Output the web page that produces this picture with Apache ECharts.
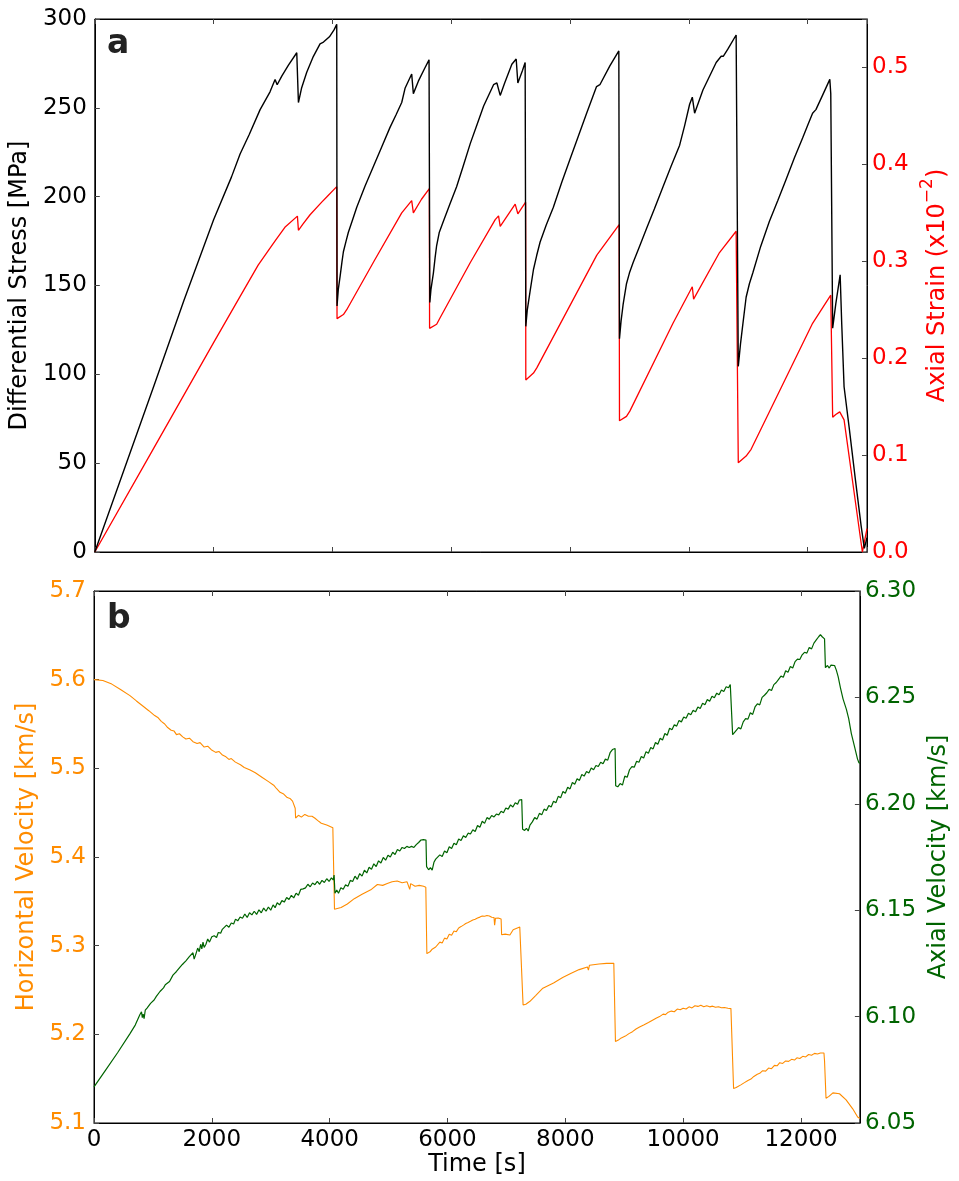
<!DOCTYPE html>
<html>
<head>
<meta charset="utf-8">
<script src="https://cdn.jsdelivr.net/npm/echarts@6/dist/echarts.min.js"></script>
<style>
  html, body { margin: 0; padding: 0; background: #fff; }
  #chart { width: 959px; height: 1181px; }
</style>
</head>
<body>
<div id="chart"></div>
<script>
// Time axis ticks [s]
const timeTicks = [0, 2000, 4000, 6000, 8000, 10000, 12000];

// Differential stress [MPa] vs time [s]
const stressData = [
  [0,0],[500,47],[1000,94],[1500,141.5],[2000,187],[2300,211],[2446,224],[2600,235],[2783,249],
  [2950,259],[3035,266],[3070,263],[3150,268],[3260,274],[3400,281],[3410,281],[3428,253],[3480,261],
  [3568,270],[3680,279],[3792,286],[3850,287],[3950,290],[4030,294],[4073,297],[4078,138.5],
  [4100,148],[4129,155],[4160,163],[4185,169],[4230,175],[4269,180],[4340,187],[4410,194],
  [4550,206],[4690,217],[4830,228],[4970,239],[5070,246],[5167,253],[5223,261],
  [5335,269],[5363,258],[5447,265],[5550,272],[5627,277],[5636,278],[5640,140.5],[5660,148],[5700,157],
  [5730,166],[5755,172.5],[5800,180],[5867,186],[5980,196],[6091,205.6],[6200,217],[6322,230],
  [6434,240.5],[6546,251],[6713,263],[6769,264],
  [6797,265],[6825,257],[6900,264],[7021,274.5],[7094,277.5],[7122,264],[7200,271],[7245,275.5],
  [7253,275],[7256,127],[7280,136],[7329,147],[7385,159],[7440,167],[7497,174.5],[7600,184],[7720,194],
  [7860,208],[8000,221],[8140,234],[8280,247],
  [8447,262],[8503,263],[8671,273.6],[8822,282],[8830,282],[8833,120],[8860,130],[8895,139.5],[8951,151],
  [9000,157],[9063,163],[9170,172],[9287,182],[9420,193],[9566,205.6],[9700,217],[9846,229],[9930,240],
  [10014,252],[10059,256],[10098,247],[10238,260],
  [10461,275.5],[10545,279],[10580,279],[10657,283],[10797,291],[10830,291],[10833,104.5],
  [10870,117],[10909,128],[10965,143.4],[11020,151],[11077,157],[11210,172],[11356,186],[11500,198],
  [11636,209.5],[11780,222],[11916,233],[12000,240],[12084,247],
  [12140,249],[12251,257],[12374,266],[12390,258],[12418,257],[12422,126],[12474,139.5],
  [12548,156],[12575,128],[12614,93],[12700,70],[12800,42],[12900,15],[12955,2],[13000,8]
];

// Axial strain [x10^-2] vs time [s]
const strainData = [
  [0,0],[1000,0.108],[2000,0.216],[2430,0.262],[2750,0.296],[3000,0.318],[3063,0.3234],[3080,0.322],
  [3200,0.335],[3411,0.3466],[3428,0.332],[3500,0.338],[3624,0.348],[3820,0.361],[3900,0.366],
  [4073,0.377],[4078,0.2408],[4185,0.245],[4241,0.25],[4700,0.30],[5167,0.350],[5335,0.3626],
  [5350,0.364],[5363,0.350],[5500,0.364],[5632,0.375],[5636,0.2308],[5755,0.235],[5811,0.2415],
  [6322,0.2987],[6741,0.343],[6797,0.3468],[6825,0.336],[7077,0.359],[7105,0.361],[7122,0.349],
  [7253,0.361],[7256,0.1775],[7385,0.1846],[7441,0.19],[8447,0.3058],[8470,0.308],[8500,0.306],
  [8828,0.3378],[8833,0.1354],[8951,0.14],[9007,0.1454],[9734,0.236],[10059,0.2737],[10081,0.261],
  [10517,0.309],[10545,0.310],[10797,0.331],[10833,0.092],[10965,0.099],[11049,0.106],
  [12084,0.236],[12110,0.238],[12390,0.265],[12422,0.139],[12474,0.1418],[12541,0.1446],
  [12614,0.1364],[12922,0],[13000,0.024]
];

// Horizontal P-wave velocity [km/s] vs time [s]
const horizVelData = [
  [0,5.600],[150,5.599],[302,5.595],[450,5.589],[610,5.582],[720,5.576],[834,5.570],[930,5.565],
  [1030,5.5595],[1090,5.557],[1142,5.553],[1200,5.550],[1250,5.546],[1310,5.543],[1360,5.542],
  [1400,5.538],[1450,5.539],[1506,5.5355],[1560,5.533],[1620,5.534],[1680,5.530],[1750,5.528],
  [1800,5.529],[1870,5.524],[1930,5.525],[1990,5.521],[2066,5.518],[2120,5.519],[2180,5.515],
  [2240,5.513],[2290,5.510],[2330,5.511],[2400,5.507],[2486,5.504],[2550,5.501],[2650,5.498],
  [2738,5.495],[2850,5.490],[2962,5.485],[3050,5.481],[3100,5.477],[3158,5.473],[3220,5.471],
  [3280,5.467],[3326,5.466],[3370,5.463],[3400,5.461],[3415,5.455],[3422,5.444],[3470,5.447],
  [3520,5.445],[3578,5.448],[3640,5.446],[3700,5.446],[3746,5.444],[3800,5.441],[3858,5.438],
  [3950,5.436],[4054,5.433],[4068,5.432],[4082,5.341],[4194,5.343],[4300,5.347],[4418,5.353],
  [4550,5.358],[4698,5.363],[4810,5.369],[4900,5.368],[4978,5.370],[5060,5.372],[5146,5.373],
  [5230,5.371],[5314,5.372],[5340,5.371],[5359,5.3635],[5375,5.370],[5450,5.367],[5520,5.368],
  [5594,5.367],[5632,5.366],[5650,5.291],[5680,5.2905],[5710,5.2935],[5740,5.2960],[5770,5.2950],
  [5800,5.2985],[5830,5.2975],[5870,5.3040],[5910,5.3030],[5950,5.3085],[5990,5.3075],[6030,5.3130],
  [6070,5.3118],[6110,5.3165],[6150,5.3158],[6190,5.3200],[6230,5.3215],[6270,5.3232],[6310,5.3250],
  [6350,5.3262],[6390,5.3275],[6430,5.3290],[6470,5.3298],[6510,5.3312],[6550,5.3322],[6590,5.3335],
  [6630,5.3332],[6670,5.3340],[6710,5.3335],[6751,5.3320],[6790,5.3318],[6800,5.3230],[6815,5.3310],
  [6860,5.3312],[6891,5.3306],[6910,5.3300],[6919,5.3123],[6980,5.313],
  [7059,5.312],[7115,5.318],[7227,5.321],[7250,5.321],[7283,5.233],[7330,5.234],[7395,5.237],
  [7500,5.244],[7619,5.252],[7800,5.258],[7955,5.264],[8100,5.269],[8235,5.273],[8375,5.2759],
  [8392,5.2724],[8410,5.278],[8571,5.2794],[8700,5.280],[8823,5.2802],[8851,5.192],[8900,5.1935],
  [8950,5.1960],[9019,5.198],[9080,5.2008],[9140,5.2030],[9200,5.206],[9260,5.2082],[9330,5.2105],
  [9411,5.2134],[9480,5.2160],[9540,5.2182],[9600,5.2200],[9660,5.2228],[9700,5.2222],[9747,5.2250],
  [9800,5.2262],[9850,5.2255],[9900,5.2285],[9950,5.2278],[10000,5.2295],[10050,5.2285],[10100,5.2310],
  [10150,5.2298],[10200,5.2322],[10251,5.2315],[10300,5.2328],[10350,5.2312],[10400,5.2322],
  [10450,5.2310],[10500,5.2318],[10550,5.2305],[10600,5.2312],[10650,5.2300],[10700,5.2302],
  [10760,5.2295],[10811,5.229],[10820,5.2288],[10856,5.139],[10900,5.1400],[10979,5.143],
  [11040,5.1455],[11100,5.148],[11150,5.1495],[11200,5.1525],[11259,5.155],[11300,5.1560],
  [11350,5.1590],[11400,5.1585],[11450,5.1620],[11500,5.1612],[11550,5.1650],[11595,5.1645],
  [11640,5.1680],[11690,5.1672],[11740,5.1700],[11790,5.1695],[11840,5.1718],[11890,5.1710],
  [11931,5.1735],[11980,5.1728],[12030,5.1752],[12080,5.1745],[12130,5.1772],[12180,5.1765],
  [12230,5.1785],[12280,5.1778],[12330,5.1790],[12360,5.1805],[12390,5.179],[12400,5.170],
  [12425,5.128],[12475,5.130],[12542,5.134],[12654,5.133],[12766,5.126],[12878,5.116],
  [12962,5.1067],[13000,5.105]
];

// Axial P-wave velocity [km/s] vs time [s]
const axialVelData = [
  [0,6.067],[200,6.075],[400,6.083],[611,6.092],[700,6.096],[780,6.101],[806,6.1022],
  [820,6.0995],[835,6.1012],[850,6.0990],[870,6.1030],[900,6.1040],[930,6.1032],[960,6.1062],
  [990,6.1055],[1020,6.1078],[1058,6.1095],[1090,6.1090],[1120,6.1118],[1150,6.1112],[1180,6.1135],
  [1210,6.1150],[1240,6.1142],[1282,6.1165],[1310,6.1170],[1340,6.1195],[1370,6.1190],[1400,6.1212],
  [1430,6.1205],[1460,6.1232],[1500,6.1245],[1530,6.1238],[1560,6.1262],[1590,6.1258],[1618,6.1282],
  [1650,6.1275],[1680,6.1300],[1700,6.1270],[1730,6.1295],[1760,6.1322],[1786,6.1305],[1810,6.1340],
  [1830,6.1318],[1850,6.1350],[1870,6.1325],[1900,6.1340],[1930,6.1365],[1960,6.1350],[2000,6.1375],
  [2040,6.1380],[2080,6.1372],[2110,6.1395],[2150,6.1392],[2178,6.1410],[2210,6.1402],[2250,6.1430],
  [2290,6.1420],[2330,6.1440],[2370,6.1435],[2402,6.1458],[2440,6.1450],[2480,6.1468],[2520,6.1462],
  [2560,6.1482],[2600,6.1466],[2640,6.1488],[2680,6.1478],[2720,6.1495],[2760,6.1480],[2800,6.1502],
  [2840,6.1488],[2880,6.1510],[2920,6.1495],[2960,6.1515],[3000,6.1500],[3040,6.1525],[3074,6.1512],
  [3110,6.1535],[3150,6.1525],[3190,6.1545],[3230,6.1538],[3270,6.1560],[3310,6.1550],[3350,6.1570],
  [3390,6.1558],[3430,6.1580],[3470,6.1570],[3510,6.1598],[3550,6.1600],[3590,6.1605],[3630,6.1622],
  [3670,6.1610],[3710,6.1628],[3750,6.1620],[3790,6.1635],[3830,6.1622],[3870,6.1640],[3910,6.1630],
  [3950,6.1648],[3990,6.1635],[4030,6.1652],[4060,6.1642],[4075,6.1665],[4090,6.1580],[4120,6.1595],
  [4150,6.1580],[4190,6.1605],[4230,6.1598],[4270,6.1620],[4310,6.1612],[4350,6.1640],[4390,6.1635],
  [4430,6.1660],[4470,6.1645],[4510,6.1672],[4550,6.1660],[4590,6.1688],[4630,6.1675],[4670,6.1702],
  [4710,6.1692],[4750,6.1718],[4790,6.1705],[4830,6.1732],[4870,6.1722],[4910,6.1748],[4950,6.1735],
  [4990,6.1758],[5030,6.1750],[5070,6.1772],[5110,6.1762],[5150,6.1785],[5190,6.1778],[5230,6.1795],
  [5270,6.1790],[5310,6.1800],[5350,6.1795],[5390,6.1800],[5430,6.1795],[5470,6.1808],[5510,6.1818],
  [5550,6.1830],[5590,6.1832],[5620,6.1828],[5635,6.1830],[5645,6.1705],[5680,6.1690],[5710,6.1700],
  [5740,6.1688],[5770,6.1725],[5800,6.1740],[5830,6.1735],[5870,6.1760],[5910,6.1752],[5950,6.1778],
  [5990,6.1770],[6030,6.1798],[6070,6.1790],[6110,6.1815],[6150,6.1808],[6190,6.1835],[6230,6.1828],
  [6270,6.1850],[6310,6.1842],[6350,6.1862],[6390,6.1858],[6430,6.1878],[6470,6.1870],[6510,6.1898],
  [6550,6.1890],[6590,6.1918],[6630,6.1908],[6670,6.1935],[6710,6.1928],[6750,6.1945],[6790,6.1938],
  [6830,6.1952],[6870,6.1948],[6910,6.1965],[6950,6.1958],[6990,6.1980],[7030,6.1975],[7070,6.1995],
  [7110,6.1985],[7150,6.2005],[7190,6.1998],[7220,6.2018],[7245,6.2012],[7260,6.2020],[7275,6.1880],
  [7310,6.1875],[7340,6.1885],[7370,6.1872],[7400,6.1900],[7440,6.1915],[7480,6.1935],[7520,6.1928],
  [7560,6.1955],[7600,6.1948],[7640,6.1975],[7680,6.1968],[7720,6.1992],[7760,6.1985],[7800,6.2012],
  [7840,6.2005],[7880,6.2035],[7920,6.2028],[7960,6.2058],[8000,6.2050],[8040,6.2078],[8080,6.2070],
  [8120,6.2100],[8160,6.2092],[8200,6.2118],[8240,6.2110],[8280,6.2138],[8320,6.2130],[8360,6.2152],
  [8400,6.2145],[8440,6.2168],[8480,6.2160],[8520,6.2180],[8560,6.2175],[8600,6.2195],[8640,6.2188],
  [8680,6.2210],[8720,6.2205],[8760,6.2240],[8800,6.2255],[8830,6.2258],[8845,6.2260],[8855,6.2085],
  [8890,6.2080],[8930,6.2095],[8970,6.2088],[9010,6.2130],[9050,6.2125],[9090,6.2160],[9130,6.2175],
  [9170,6.2172],[9210,6.2200],[9250,6.2195],[9290,6.2222],[9330,6.2215],[9370,6.2245],[9410,6.2238],
  [9450,6.2265],[9490,6.2258],[9530,6.2288],[9570,6.2280],[9610,6.2308],[9650,6.2300],[9690,6.2330],
  [9730,6.2322],[9770,6.2355],[9810,6.2348],[9850,6.2372],[9890,6.2365],[9930,6.2392],[9970,6.2385],
  [10010,6.2408],[10050,6.2402],[10090,6.2425],[10130,6.2418],[10170,6.2440],[10210,6.2432],
  [10250,6.2455],[10290,6.2448],[10330,6.2472],[10370,6.2465],[10410,6.2490],[10450,6.2482],
  [10490,6.2505],[10530,6.2498],[10570,6.2520],[10610,6.2512],[10650,6.2535],[10690,6.2528],
  [10730,6.2550],[10770,6.2545],[10800,6.2560],[10825,6.2555],[10840,6.2325],[10870,6.2335],
  [10900,6.2330],[10940,6.2358],[10980,6.2352],[11020,6.2385],[11060,6.2400],[11100,6.2398],
  [11140,6.2428],[11180,6.2420],[11220,6.2455],[11260,6.2470],[11300,6.2465],[11340,6.2500],
  [11380,6.2510],[11420,6.2522],[11460,6.2538],[11500,6.2532],[11540,6.2560],[11580,6.2570],
  [11620,6.2585],[11660,6.2600],[11700,6.2595],[11740,6.2625],[11780,6.2618],[11820,6.2645],
  [11860,6.2638],[11900,6.2668],[11940,6.2680],[11980,6.2678],[12020,6.2700],[12060,6.2712],
  [12100,6.2708],[12140,6.2735],[12180,6.2728],[12220,6.2755],[12260,6.2770],[12300,6.2785],
  [12330,6.2795],[12360,6.2785],[12385,6.2790],[12400,6.2775],[12415,6.2640],[12450,6.2650],
  [12480,6.2638],[12510,6.2652],[12540,6.2645],[12570,6.2650],[12600,6.2628],[12631,6.2598],
  [12670,6.2545],[12715,6.2492],[12771,6.2444],[12810,6.2400],[12855,6.2330],[12911,6.2266],
  [12960,6.2210],[12984,6.2193],[13000,6.2190]
];

const FONT = 'DejaVu Sans';
const TICK_COLOR = '#444';

function timeAxis(gridIndex, position, showLabels, name) {
  return {
    type: 'value', gridIndex, position,
    min: timeTicks[0], max: 13000, interval: timeTicks[1] - timeTicks[0],
    name: name || '', nameLocation: 'middle', nameGap: 26,
    nameTextStyle: { color: '#000', fontSize: 24, fontFamily: FONT },
    axisLine: { show: true, onZero: false, lineStyle: { color: '#000', width: 1 } },
    axisTick: { show: true, inside: true, length: 5, lineStyle: { color: TICK_COLOR } },
    axisLabel: { show: showLabels, color: '#000', fontSize: 23, fontFamily: FONT, margin: 6,
                 formatter: v => String(v) },
    splitLine: { show: false }
  };
}

function valueAxis(gridIndex, position, min, max, interval, digits, color, name, nameGap, labelMargin, rich) {
  const nameStyle = { color, fontSize: 24, fontFamily: FONT };
  if (rich) nameStyle.rich = rich;
  return {
    type: 'value', gridIndex, position, min, max, interval,
    name, nameLocation: 'middle', nameGap, nameRotate: 90,
    nameTextStyle: nameStyle,
    axisLine: { show: true, onZero: false, lineStyle: { color: '#000', width: 1 } },
    axisTick: { show: true, inside: true, length: 5, lineStyle: { color: TICK_COLOR } },
    axisLabel: {
      color, fontSize: 23, fontFamily: FONT, margin: labelMargin,
      formatter: v => {
        const k = (v - min) / interval;
        return Math.abs(k - Math.round(k)) < 1e-6 ? v.toFixed(digits) : '';
      }
    },
    splitLine: { show: false }
  };
}

// superscript exponent for the strain axis name
const strainRich = {
  n: { fontSize: 24, fontFamily: FONT, color: '#ff0000', lineHeight: 30, verticalAlign: 'bottom' },
  s: { fontSize: 17, fontFamily: FONT, color: '#ff0000', lineHeight: 17, verticalAlign: 'top' }
};

const chart = echarts.init(document.getElementById('chart'), null, { renderer: 'canvas' });

chart.setOption({
  animation: false,
  backgroundColor: '#fff',
  grid: [
    { left: 94, top: 19, width: 773, height: 533, show: true, borderColor: '#000', borderWidth: 1, backgroundColor: 'transparent' },
    { left: 94, top: 591, width: 773, height: 532, show: true, borderColor: '#000', borderWidth: 1, backgroundColor: 'transparent' }
  ],
  xAxis: [
    timeAxis(0, 'bottom', false),
    timeAxis(0, 'top', false),
    timeAxis(1, 'bottom', true, 'Time [s]'),
    timeAxis(1, 'top', false)
  ],
  yAxis: [
    valueAxis(0, 'left', 0, 300, 50, 0, '#000', 'Differential Stress [MPa]', 54, 8),
    valueAxis(0, 'right', 0, 0.55, 0.1, 1, '#ff0000', '{n|Axial Strain (x10}{s|−2}{n|)}', 50, 5, strainRich),
    valueAxis(1, 'left', 5.1, 5.7, 0.1, 1, '#ff8c00', 'Horizontal Velocity [km/s]', 45, 8),
    valueAxis(1, 'right', 6.05, 6.30, 0.05, 2, '#006400', 'Axial Velocity [km/s]', 65, 5)
  ],
  graphic: [
    { type: 'text', left: 107, top: 28, style: { text: 'a', font: 'bold 33px "DejaVu Sans"', fill: '#222' } },
    { type: 'text', left: 107, top: 603, style: { text: 'b', font: 'bold 33px "DejaVu Sans"', fill: '#222' } }
  ],
  series: [
    { name: 'Differential Stress', type: 'line', xAxisIndex: 0, yAxisIndex: 0, data: stressData,
      showSymbol: false, symbol: 'none', lineStyle: { color: '#000', width: 1.4 }, z: 3 },
    { name: 'Axial Strain', type: 'line', xAxisIndex: 0, yAxisIndex: 1, data: strainData,
      showSymbol: false, symbol: 'none', lineStyle: { color: '#ff0000', width: 1.3 }, z: 2 },
    { name: 'Horizontal Velocity', type: 'line', xAxisIndex: 2, yAxisIndex: 2, data: horizVelData,
      showSymbol: false, symbol: 'none', lineStyle: { color: '#ff8c00', width: 1.1 }, z: 2 },
    { name: 'Axial Velocity', type: 'line', xAxisIndex: 2, yAxisIndex: 3, data: axialVelData,
      showSymbol: false, symbol: 'none', lineStyle: { color: '#006400', width: 1.2 }, z: 3 }
  ]
});
</script>
</body>
</html>
